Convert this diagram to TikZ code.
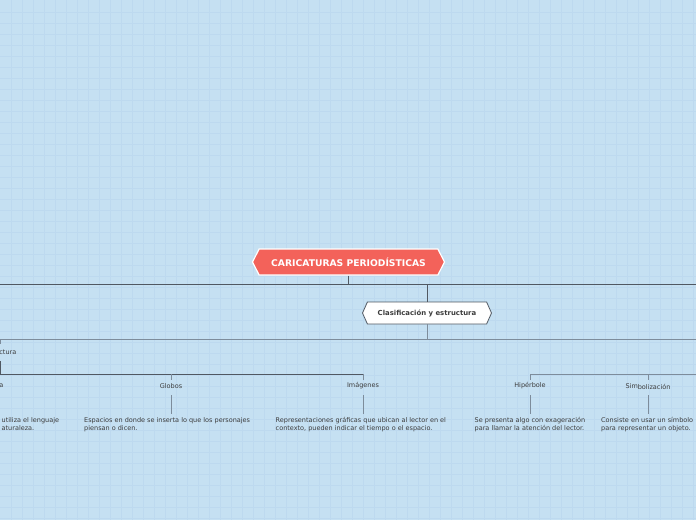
\documentclass[tikz,border=0pt]{standalone}
\usepackage{fontspec}
\setmainfont{DejaVu Sans}
\usetikzlibrary{shapes.symbols, positioning}
\definecolor{bgblue}{RGB}{197,224,242}
\definecolor{gridblue}{RGB}{189,217,239}
\definecolor{rootred}{RGB}{243,98,90}
\definecolor{darkline}{RGB}{80,88,98}
\definecolor{midline}{RGB}{125,140,155}
\definecolor{textgray}{RGB}{60,60,60}
\tikzset{
  rootbox/.style={signal, signal to=west and east, signal pointer angle=126,
    fill=rootred, draw=white, line width=1.2pt, text=white,
    font=\fontsize{9.2}{10}\selectfont\bfseries, minimum width=192pt, minimum height=26pt, inner sep=0pt},
  subbox/.style={signal, signal to=west and east, signal pointer angle=132,
    fill=white, draw=darkline, line width=0.8pt, text=textgray,
    font=\fontsize{6.9}{8}\selectfont\bfseries, minimum width=129pt, minimum height=22pt, inner sep=0pt},
  topic/.style={text=textgray, font=\fontsize{6.5}{7}\selectfont, inner sep=0pt},
  note/.style={text=textgray, font=\fontsize{6.5}{8}\selectfont, align=left, inner sep=0pt, anchor=north west},
  trunk/.style={draw=darkline, line width=1pt},
  twig/.style={draw=midline, line width=0.8pt}
}
\begin{document}
\begin{tikzpicture}[x=1pt, y=-1pt]
  \fill[bgblue] (0,0) rectangle (696,520);
  \useasboundingbox (0,0) rectangle (696,520);
  \begin{scope}
    \clip (0,0) rectangle (696,520);
    \foreach \g in {11,22,...,693}
      \draw[gridblue, line width=0.35pt] (\g,0) -- (\g,520);
    \foreach \g in {12,23,...,518}
      \draw[gridblue, line width=0.35pt] (0,\g) -- (696,\g);

    % main nodes
    \node[rootbox] (root) at (348.5,262) {CARICATURAS PERIODÍSTICAS};
    \node[subbox] (clasif) at (427,313) {Clasificación y estructura};

    % level one
    \coordinate (barA) at (348.5,284);
    \draw[trunk] (root.south) -- (barA);
    \draw[trunk] (0,284) -- (696,284);
    \draw[trunk] (clasif.north) -- (427,284);
    \draw[twig] (clasif.south) -- (427,339);
    \draw[twig] (0,339) -- (696,339);

    % estructura branch
    \node[topic, anchor=east] (estr) at (16.5,352) {ctura};
    \draw[twig] (0,339) -- (0,343.5);
    \draw[trunk] (0,361) -- (0,374);
    \draw[trunk] (0,374) -- (363,374);
    \draw[twig] (530,374) -- (696,374);

    % topics
    \node[topic, anchor=east] (tA) at (3.5,386) {a};
    \node[topic] (globos) at (171,386) {Globos};
    \node[topic] (imag) at (363,386) {Imágenes};
    \node[topic] (hiper) at (530,386) {Hipérbole};
    \node[topic] (simbol) at (648,386.5) {Sim\raisebox{-1.6pt}{bolización}};

    \foreach \t/\x in {globos/171, imag/363, hiper/530, simbol/648}{
      \draw[twig] (\x,374) -- (\x,379.5);
      \draw[twig] (\x,395) -- (\x,414);
    }

    % descriptions
    \node[note] (dA) at (1.5,417.5) {utiliza el lenguaje\\aturaleza.};
    \node[note] (dglobos) at (84,417.5) {Espacios en donde se inserta lo que los personajes\\piensan o dicen.};
    \node[note] (dimag) at (275.5,417.5) {Representaciones gráficas que ubican al lector en el\\contexto, pueden indicar el tiempo o el espacio.};
    \node[note] (dhiper) at (474.5,417.5) {Se presenta algo con exageración\\para llamar la atención del lector.};
    \node[note] (dsimbol) at (601,417.5) {Consiste en usar un símbolo\\para representar un objeto.};
  \end{scope}
\end{tikzpicture}
\end{document}
